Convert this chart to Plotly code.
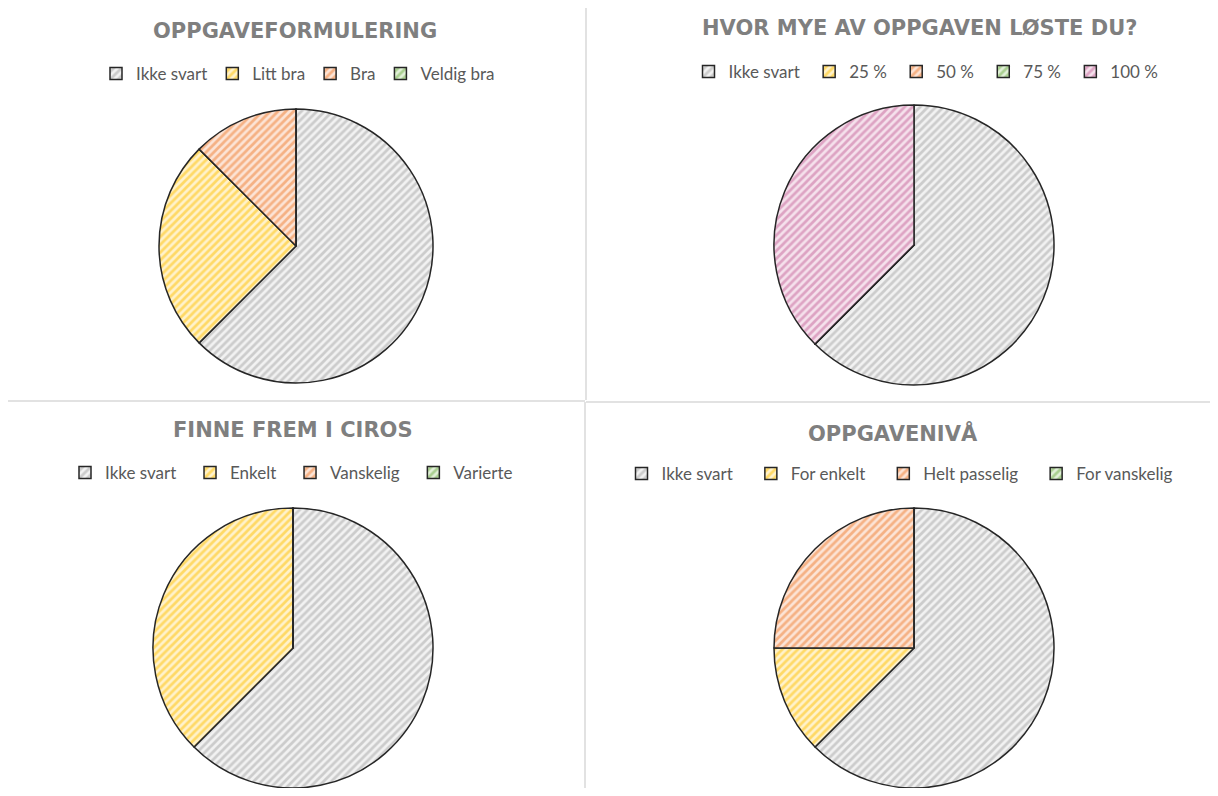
import plotly.graph_objects as go

# window is 1218x796; the page body has an 8px margin, so the figure is 1202x780
W, H = 1202, 780
OFF = 8

titles = ["OPPGAVEFORMULERING", "HVOR MYE AV OPPGAVEN LØSTE DU?", "FINNE FREM I CIROS", "OPPGAVENIVÅ"]
labels1 = ["Ikke svart", "Litt bra", "Bra", "Veldig bra"]
values1 = [5, 2, 1, 0]
labels2 = ["Ikke svart", "25 %", "50 %", "75 %", "100 %"]
values2 = [5, 0, 0, 0, 3]
labels3 = ["Ikke svart", "Enkelt", "Vanskelig", "Varierte"]
values3 = [5, 3, 0, 0]
labels4 = ["Ikke svart", "For enkelt", "Helt passelig", "For vanskelig"]
values4 = [5, 1, 2, 0]

fg = ["#a5a5a5", "#ffc000", "#ed7d31", "#70ad47", "#c5669a"]
bg = ["#f2f2f2", "#fff2cc", "#fce4d6", "#e2f0d9", "#f5e1ec"]

# geometry in reference-image pixels: (cx, cy, r), title pos, legend pos
geo = [
    dict(c=(296, 246, 137), t=(295, 31), l=(298, 74)),
    dict(c=(914, 245, 140), t=(919, 28), l=(928, 72)),
    dict(c=(293, 648, 140), t=(293, 430), l=(296, 473)),
    dict(c=(914, 648, 140), t=(893, 434), l=(906, 474)),
]


def px(x):
    return min(1, max(0, (x - OFF) / W))


def py(y):
    return min(1, max(0, 1 - (y - OFF) / H))


data = [(labels1, values1), (labels2, values2), (labels3, values3), (labels4, values4)]

fig = go.Figure()
legend_names = ["legend", "legend2", "legend3", "legend4"]
for i, ((labs, vals), g) in enumerate(zip(data, geo)):
    cx, cy, r = g["c"]
    n = len(labs)
    fgs = fg[:n]
    bgs = bg[:n]
    # pie legends key items by label across traces: keep them distinct per chart
    uniq = [lab + " " * i for lab in labs]
    fig.add_trace(go.Pie(
        labels=uniq, values=vals, sort=False, direction="clockwise", rotation=0,
        textinfo="none", hoverinfo="label+value+percent",
        domain=dict(x=[px(cx - r), px(cx + r)], y=[py(cy + r), py(cy - r)]),
        marker=dict(
            colors=bgs,
            line=dict(color="#262626", width=1.5),
            pattern=dict(shape="/", fgcolor=fgs, bgcolor=bgs, size=5.5, solidity=0.5, fillmode="overlay"),
        ),
        legend=legend_names[i],
        showlegend=True,
    ))

annotations = []
for t, g in zip(titles, geo):
    tx, ty = g["t"]
    annotations.append(dict(
        text=f"<b>{t}</b>", x=px(tx), y=py(ty), xref="paper", yref="paper",
        xanchor="center", yanchor="middle", showarrow=False,
        font=dict(family="DejaVu Sans", size=21, color="#7f7f7f"),
    ))

layout_legends = {}
for name, g in zip(legend_names, geo):
    lx, ly = g["l"]
    layout_legends[name] = dict(
        orientation="h", x=px(lx), y=py(ly), xanchor="center", yanchor="middle",
        font=dict(family="Lato", size=17, color="#595959"), itemwidth=30,
        bgcolor="rgba(0,0,0,0)", traceorder="normal", itemclick=False,
    )

sep = dict(color="#d9d9d9", width=1.5)
shapes = [
    dict(type="line", xref="paper", yref="paper", x0=px(586), x1=px(586), y0=1, y1=py(400), line=sep),
    dict(type="line", xref="paper", yref="paper", x0=px(585), x1=px(585), y0=py(402), y1=0, line=sep),
    dict(type="line", xref="paper", yref="paper", x0=0, x1=px(585), y0=py(401), y1=py(401), line=sep),
    dict(type="line", xref="paper", yref="paper", x0=px(586), x1=1, y0=py(402), y1=py(402), line=sep),
]

fig.update_layout(
    width=W, height=H, margin=dict(l=0, r=0, t=0, b=0),
    paper_bgcolor="white", plot_bgcolor="white",
    annotations=annotations, shapes=shapes,
    **layout_legends,
)

fig.write_html("out.html")
